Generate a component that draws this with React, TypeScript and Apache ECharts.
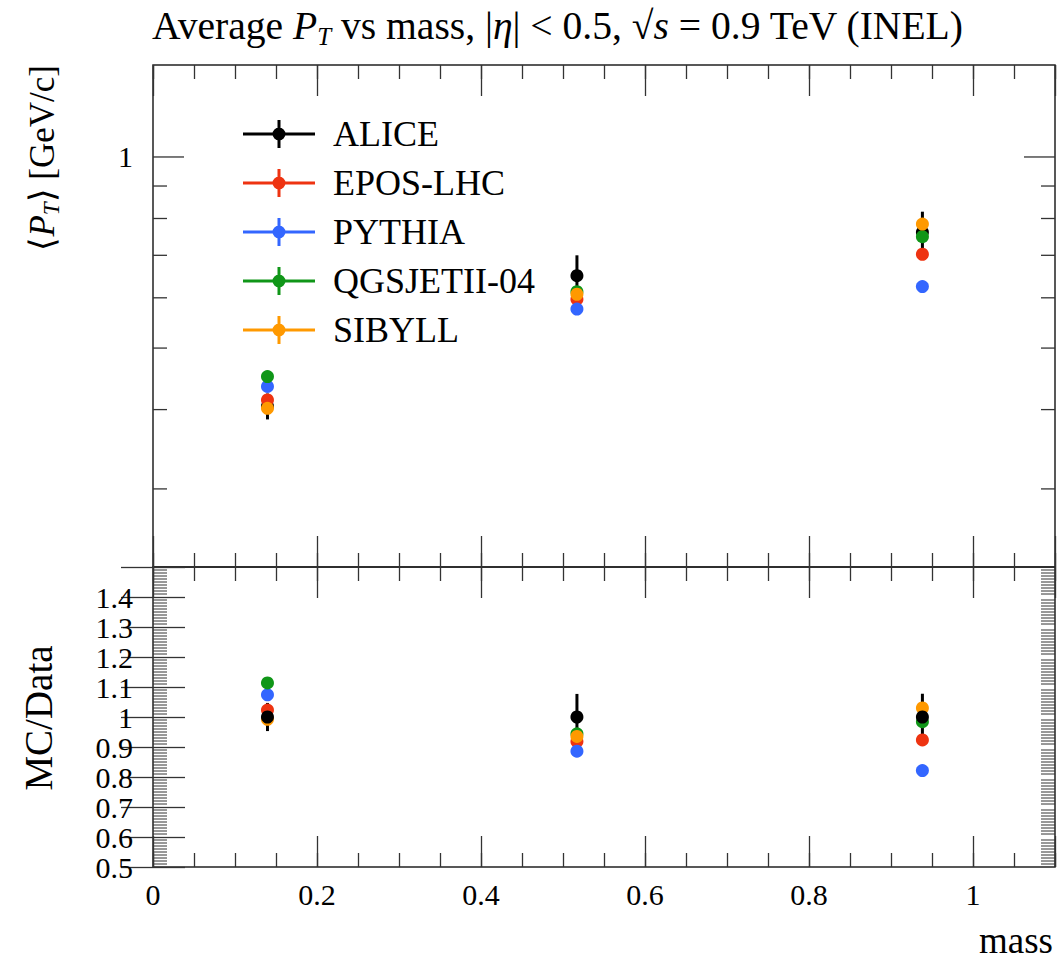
import React, { useEffect, useRef } from 'react';
import * as echarts from 'echarts';

// ---- data ----
const seriesNames = ['ALICE', 'EPOS-LHC', 'PYTHIA', 'QGSJETII-04', 'SIBYLL'];
const massValues = [0.1396, 0.517, 0.9383];
const aliceValues = [0.405, 0.65, 0.761];
const aliceErrors = [0.019, 0.05, 0.059];
const eposValues = [0.4143, 0.597, 0.7027];
const pythiaValues = [0.435, 0.576, 0.625];
const qgsjetValues = [0.451, 0.6135, 0.749];
const sibyllValues = [0.4018, 0.6078, 0.784];
const topMajorTicks = [1];
const topMinorTicks = [0.3, 0.4, 0.5, 0.6, 0.7, 0.8, 0.9];
const ratioMinorTicks: number[] = [];
for (let k = 50; k <= 150; k++) if (k % 10 !== 0) ratioMinorTicks.push(k / 100);

const colors = ['#000000', '#EE3311', '#3366FF', '#109618', '#FF9900'];
const mcValues = [eposValues, pythiaValues, qgsjetValues, sibyllValues];

const FONT = 'Liberation Serif';
const XMIN = 0;
const XMAX = 1.1;
const TICK = '#333333';

const LEGEND_ICON =
  'path://M0,12.5L72,12.5L72,15.5L0,15.5Z M34.5,0L37.5,0L37.5,28L34.5,28Z M42.5,14A6.5,6.5,0,1,1,29.5,14A6.5,6.5,0,1,1,42.5,14Z';

const labelRich = {
  t: { fontFamily: FONT, fontWeight: 'normal', fontSize: 30, lineHeight: 24, color: '#000' },
};

function xAxisDef(gridIndex: number, position: 'top' | 'bottom', interval: number, len: number, labels: boolean) {
  return {
    type: 'value',
    gridIndex,
    position,
    min: XMIN,
    max: XMAX,
    interval,
    axisLine: { show: false },
    splitLine: { show: false },
    axisTick: { show: true, inside: true, length: len, lineStyle: { color: TICK, width: 1.3 } },
    axisLabel: labels
      ? {
          show: true,
          margin: 15,
          hideOverlap: false,
          showMinLabel: true,
          rich: labelRich,
          formatter: (v: number) => {
            const k = v / 0.2;
            if (Math.abs(k - Math.round(k)) > 1e-6 || v > 1.0001) return '';
            return '{t|' + String(Math.round(v * 10) / 10) + '}';
          },
        }
      : { show: false },
  };
}

function yTicksSeries(xi: number, yi: number, xv: number, values: number[], len: number, width: number) {
  return {
    type: 'custom',
    xAxisIndex: xi,
    yAxisIndex: yi,
    silent: true,
    clip: false,
    z: 1,
    data: values.map((v) => [xv, v]),
    encode: { x: 0, y: 1 },
    renderItem: (params: any, api: any) => {
      const y = api.coord([xv, api.value(1)])[1];
      const cs = params.coordSys;
      return {
        type: 'group',
        children: [
          { type: 'line', shape: { x1: cs.x, y1: y, x2: cs.x + len, y2: y }, style: { stroke: TICK, lineWidth: width } },
          {
            type: 'line',
            shape: { x1: cs.x + cs.width - len, y1: y, x2: cs.x + cs.width, y2: y },
            style: { stroke: TICK, lineWidth: width },
          },
        ],
      };
    },
  };
}

function errSeries(xi: number, yi: number, data: number[][]) {
  return {
    type: 'custom',
    name: 'ALICE',
    xAxisIndex: xi,
    yAxisIndex: yi,
    silent: true,
    itemStyle: { color: '#000' },
    data,
    encode: { x: 0, y: 1 },
    renderItem: (params: any, api: any) => {
      const x = api.value(0);
      const y = api.value(1);
      const e = api.value(2);
      const p1 = api.coord([x, y + e]);
      const p2 = api.coord([x, y - e]);
      return {
        type: 'line',
        shape: { x1: p1[0], y1: p1[1], x2: p2[0], y2: p2[1] },
        style: { stroke: '#000', lineWidth: 3 },
      };
    },
  };
}

function scatter(name: string, color: string, xi: number, yi: number, data: number[][]) {
  return {
    type: 'scatter',
    name,
    xAxisIndex: xi,
    yAxisIndex: yi,
    symbol: 'circle',
    symbolSize: 13,
    itemStyle: { color, opacity: 1 },
    silent: true,
    data,
  };
}

function ratioYAxis(position: 'left' | 'right', labels: boolean) {
  return {
    type: 'value',
    gridIndex: 1,
    position,
    min: 0.5,
    max: 1.5,
    interval: 0.1,
    axisLine: { show: false },
    splitLine: { show: false },
    axisTick: { show: true, inside: true, length: 32, lineStyle: { color: TICK, width: 1.3 } },
    minorTick: { show: false },
    axisLabel: labels
      ? {
          show: true,
          margin: 20,
          hideOverlap: false,
          showMinLabel: true,
          rich: labelRich,
          formatter: (v: number) => (v > 1.45 ? '' : '{t|' + String(Math.round(v * 10) / 10) + '}'),
        }
      : { show: false },
  };
}

export default function App() {
  const ref = useRef<HTMLDivElement>(null);

  useEffect(() => {
    document.body.style.margin = '0';
    if (!ref.current) return;
    const chart = echarts.init(ref.current, null, { renderer: 'svg' });

    const aliceTop = massValues.map((m, i) => [m, aliceValues[i]]);
    const aliceErrTop = massValues.map((m, i) => [m, aliceValues[i], aliceErrors[i]]);
    const aliceRatio = massValues.map((m) => [m, 1]);
    const aliceErrRatio = massValues.map((m, i) => [m, 1, aliceErrors[i] / aliceValues[i]]);

    const series: any[] = [];
    series.push(yTicksSeries(0, 0, 0.5, topMinorTicks, 14, 1.3));
    series.push(yTicksSeries(0, 0, 0.5, topMajorTicks, 31, 1.3));
    series.push(yTicksSeries(4, 1, 0.5, ratioMinorTicks, 14, 1));
    // top panel
    series.push(errSeries(0, 0, aliceErrTop));
    series.push(scatter('ALICE', colors[0], 0, 0, aliceTop));
    mcValues.forEach((vals, k) => {
      series.push(scatter(seriesNames[k + 1], colors[k + 1], 0, 0, massValues.map((m, i) => [m, vals[i]])));
    });
    // ratio panel
    mcValues.forEach((vals, k) => {
      series.push(
        scatter(seriesNames[k + 1], colors[k + 1], 4, 1, massValues.map((m, i) => [m, vals[i] / aliceValues[i]]))
      );
    });
    series.push(errSeries(4, 1, aliceErrRatio));
    series.push(scatter('ALICE', colors[0], 4, 1, aliceRatio));

    const TS = 39.6;
    const rich = {
      i: { fontFamily: FONT, fontWeight: 'normal', fontStyle: 'italic', fontSize: TS, lineHeight: 46, verticalAlign: 'middle' },
      s: { fontFamily: FONT, fontWeight: 'normal', fontStyle: 'italic', fontSize: 25, lineHeight: 25, verticalAlign: 'bottom' },
      n: { fontFamily: FONT, fontWeight: 'normal', fontSize: TS, lineHeight: 46, verticalAlign: 'middle' },
    };

    const YS = 35;
    const yRich = {
      i: { fontFamily: FONT, fontStyle: 'italic', fontSize: YS, lineHeight: 42, verticalAlign: 'middle' },
      s: { fontFamily: FONT, fontStyle: 'italic', fontSize: 23, lineHeight: 23, verticalAlign: 'bottom' },
      n: { fontFamily: FONT, fontSize: YS, lineHeight: 42, verticalAlign: 'middle' },
    };

    chart.setOption({
      animation: false,
      textStyle: { fontFamily: FONT, fontWeight: 'normal' },
      title: {
        left: 152,
        top: 3,
        padding: 0,
        text: '{n|Average }{i|P}{s|T}{n| vs mass, |}{i|η}{n|| < 0.5, √}{i|s}{n| = 0.9 TeV (INEL)}',
        textStyle: { fontFamily: FONT, fontWeight: 'normal', fontSize: TS, color: '#000', rich },
      },
      legend: {
        orient: 'vertical',
        left: 243,
        top: 116,
        padding: 0,
        itemWidth: 72,
        itemHeight: 28,
        itemGap: 13,
        selectedMode: false,
        data: seriesNames.map((n) => ({ name: n, icon: LEGEND_ICON })),
        formatter: (name: string) => '{t|' + name + '}',
        textStyle: {
          fontFamily: FONT,
          fontSize: 36,
          lineHeight: 32,
          color: '#000',
          padding: [0, 0, 0, 13],
          rich: {
            t: { fontFamily: FONT, fontWeight: 'normal', fontSize: 36, lineHeight: 32, color: '#000' },
          },
        },
      },
      grid: [
        { left: 153, right: 4, top: 65, height: 502, show: true, borderColor: '#222', borderWidth: 1.5, backgroundColor: 'transparent' },
        { left: 153, right: 4, top: 567, height: 300, show: true, borderColor: '#222', borderWidth: 1.5, backgroundColor: 'transparent' },
      ],
      xAxis: [
        xAxisDef(0, 'bottom', 0.2, 31, false), // 0 (data axis, top panel)
        xAxisDef(0, 'top', 0.05, 14, false),
        xAxisDef(0, 'bottom', 0.05, 14, false),
        xAxisDef(0, 'top', 0.2, 31, false),
        xAxisDef(1, 'bottom', 0.2, 31, true), // 4 (data axis, ratio panel)
        xAxisDef(1, 'top', 0.05, 14, false),
        xAxisDef(1, 'bottom', 0.05, 14, false),
        xAxisDef(1, 'top', 0.2, 31, false),
      ],
      yAxis: [
        {
          type: 'log',
          logBase: 10,
          gridIndex: 0,
          min: 0.226,
          max: 1.396,
          axisLine: { show: false },
          splitLine: { show: false },
          axisTick: { show: false },
          minorTick: { show: false },
          axisLabel: {
            show: true,
            margin: 20,
            rich: labelRich,
            formatter: (v: number) => (Math.abs(v - 1) < 1e-6 ? '{t|1}' : ''),
          },
        },
        ratioYAxis('left', true), // 1 (data axis, ratio panel)
        ratioYAxis('right', false),
      ],
      graphic: [
        {
          type: 'text',
          x: 42,
          y: 65,
          rotation: Math.PI / 2,
          style: {
            text: '{n|⟨}{i|P}{s|T}{n|⟩ [GeV/c]}',
            rich: yRich,
            fontFamily: FONT,
            fontSize: YS,
            fill: '#000',
            align: 'right',
            verticalAlign: 'middle',
          },
        },
        {
          type: 'text',
          x: 38,
          y: 718,
          rotation: Math.PI / 2,
          style: {
            text: 'MC/Data',
            fontFamily: FONT,
            fontSize: 39,
            fill: '#000',
            align: 'center',
            verticalAlign: 'middle',
          },
        },
        {
          type: 'text',
          x: 1053,
          y: 940,
          style: {
            text: 'mass',
            fontFamily: FONT,
            fontSize: 37,
            fill: '#000',
            align: 'right',
            verticalAlign: 'middle',
          },
        },
      ],
      series,
    });

    return () => {
      chart.dispose();
    };
  }, []);

  return <div ref={ref} style={{ width: 1059, height: 961 }} />;
}
